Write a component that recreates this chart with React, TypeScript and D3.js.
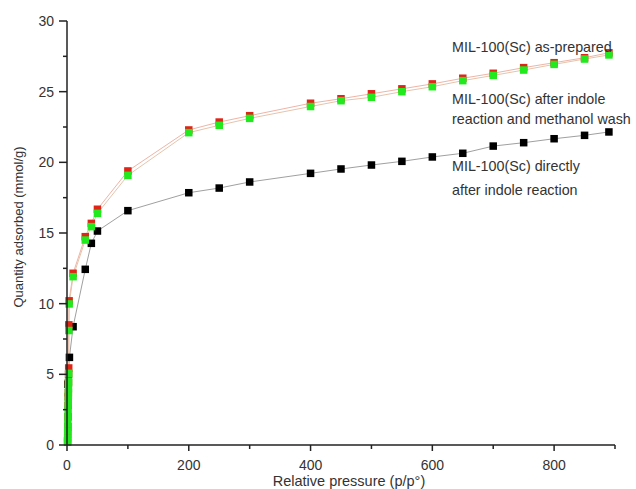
import React from "react";
import * as d3 from "d3";

const asPrepared: [number, number][] = [
  [1.0, 0.3], [1.2, 0.8], [1.4, 1.3], [1.6, 2.0], [1.8, 2.8], [2.0, 3.4], [2.2, 3.7],
  [2.4, 4.4], [2.6, 5.0], [2.8, 5.45], [3, 8.5], [3.5, 10.2], [10, 12.15], [30, 14.74],
  [40, 15.68], [50, 16.68], [100, 19.39], [200, 22.29], [250, 22.85], [300, 23.3],
  [400, 24.18], [450, 24.5], [500, 24.85], [550, 25.2], [600, 25.55], [650, 25.95],
  [700, 26.3], [750, 26.7], [800, 27.05], [850, 27.4], [890, 27.75],
];

const afterWash: [number, number][] = [
  [1.0, 0.2], [1.1, 0.5], [1.2, 1.0], [1.4, 1.5], [1.6, 2.0], [1.8, 2.5], [2.0, 3.0],
  [2.2, 3.5], [2.4, 4.0], [2.6, 4.5], [2.8, 5.07], [3, 8.1], [3.5, 9.98], [10, 11.91],
  [30, 14.5], [40, 15.45], [50, 16.39], [100, 19.08], [200, 22.1], [250, 22.62],
  [300, 23.11], [400, 23.95], [450, 24.36], [500, 24.6], [550, 25.0], [600, 25.35],
  [650, 25.78], [700, 26.15], [750, 26.53], [800, 26.93], [850, 27.31], [890, 27.6],
];

const directly: [number, number][] = [
  [1.5, 4.3], [4, 6.2], [10, 8.37], [30, 12.43], [40, 14.27], [50, 15.14], [100, 16.58],
  [200, 17.85], [250, 18.18], [300, 18.61], [400, 19.22], [450, 19.53], [500, 19.81],
  [550, 20.07], [600, 20.38], [650, 20.64], [700, 21.15], [750, 21.39], [800, 21.67],
  [850, 21.91], [890, 22.15],
];

const xMajorTicks = [0, 200, 400, 600, 800];
const xMinorTicks = [100, 300, 500, 700, 900];
const yMajorTicks = [0, 5, 10, 15, 20, 25, 30];
const yMinorTicks = [2.5, 7.5, 12.5, 17.5, 22.5, 27.5];

const legendLines = [
  { text: "MIL-100(Sc) as-prepared", y: 52 },
  { text: "MIL-100(Sc) after indole", y: 104 },
  { text: "reaction and methanol wash", y: 124 },
  { text: "MIL-100(Sc) directly", y: 171 },
  { text: "after indole reaction", y: 195 },
];

export default function App() {
  const W = 636;
  const H = 489;
  const x = d3.scaleLinear().domain([0, 900]).range([67, 615]);
  const y = d3.scaleLinear().domain([0, 30]).range([445, 21]);
  const line = d3
    .line<[number, number]>()
    .x((d) => x(d[0]))
    .y((d) => y(d[1]));
  const font = "'Liberation Sans', Arial, sans-serif";
  const sq = 7.5;

  const series = [
    { data: directly, fill: "#000000", stroke: "#a0a0a0" },
    { data: asPrepared, fill: "#e02418", stroke: "#efb4a6" },
    { data: afterWash, fill: "#22e81e", stroke: "#e6c4ac" },
  ];

  return (
    <svg
      width={W}
      height={H}
      style={{ position: "absolute", left: 0, top: 0, background: "#fff" }}
      fontFamily={font}
    >
      <rect width={W} height={H} fill="#fff" />
      {series.map((s, i) => (
        <path key={"l" + i} d={line(s.data) || ""} fill="none" stroke={s.stroke} strokeWidth={1} />
      ))}
      {series.map((s, i) => (
        <g key={"m" + i}>
          {s.data.map((d, j) => (
            <rect
              key={j}
              x={x(d[0]) - sq / 2}
              y={y(d[1]) - sq / 2}
              width={sq}
              height={sq}
              fill={s.fill}
            />
          ))}
        </g>
      ))}
      {/* axes */}
      <line x1={x(0)} x2={x(900)} y1={y(0)} y2={y(0)} stroke="#222" strokeWidth={1.5} />
      <line x1={x(0)} x2={x(0)} y1={y(0)} y2={y(30)} stroke="#222" strokeWidth={1.5} />
      {xMajorTicks.map((t) => (
        <g key={"xt" + t}>
          <line x1={x(t)} x2={x(t)} y1={y(0)} y2={y(0) + 6} stroke="#222" strokeWidth={1.5} />
          <text x={x(t)} y={470} textAnchor="middle" fontSize={14} fill="#333">
            {t}
          </text>
        </g>
      ))}
      {xMinorTicks.map((t) => (
        <line key={"xm" + t} x1={x(t)} x2={x(t)} y1={y(0)} y2={y(0) + 4} stroke="#222" strokeWidth={1.5} />
      ))}
      {yMajorTicks.map((t) => (
        <g key={"yt" + t}>
          <line x1={x(0) - 8} x2={x(0)} y1={y(t)} y2={y(t)} stroke="#222" strokeWidth={1.5} />
          <text x={54} y={y(t) + 5} textAnchor="end" fontSize={14} fill="#333">
            {t}
          </text>
        </g>
      ))}
      {yMinorTicks.map((t) => (
        <line key={"ym" + t} x1={x(0) - 4} x2={x(0)} y1={y(t)} y2={y(t)} stroke="#222" strokeWidth={1.5} />
      ))}
      <text x={349} y={486} textAnchor="middle" fontSize={14.5} fill="#333">
        Relative pressure (p/p°)
      </text>
      <text
        transform={`translate(23,227) rotate(-90)`}
        textAnchor="middle"
        fontSize={13}
        fill="#333"
      >
        Quantity adsorbed (mmol/g)
      </text>
      {legendLines.map((l, i) => (
        <text key={"lg" + i} x={452} y={l.y} fontSize={14.3} fill="#333">
          {l.text}
        </text>
      ))}
    </svg>
  );
}
